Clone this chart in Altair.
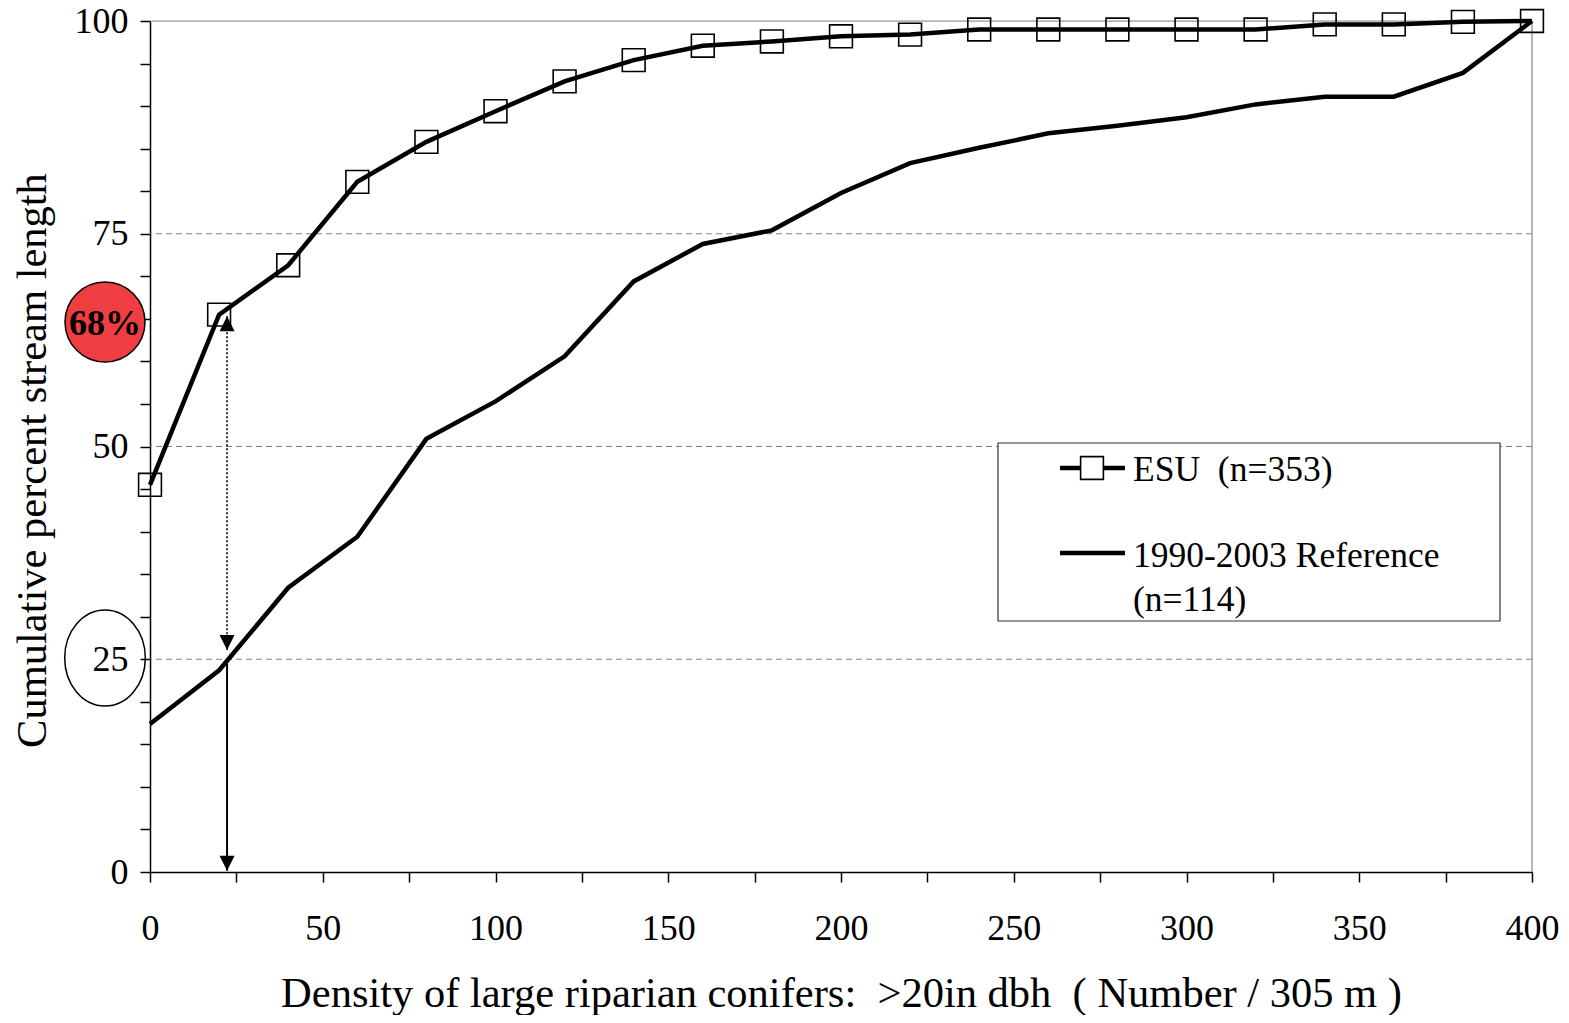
import altair as alt
import pandas as pd

# ---------------- data ----------------
density = [0, 20, 40, 60, 80, 100, 120, 140, 160, 180, 200,
           220, 240, 260, 280, 300, 320, 340, 360, 380, 400]
esu_pct = [45.5, 65.5, 71.3, 81.1, 85.8, 89.4, 92.9, 95.4, 97.1, 97.6, 98.2,
           98.4, 99.0, 99.0, 99.0, 99.0, 99.0, 99.6, 99.6, 99.9, 100.0]
ref_pct = [17.4, 23.7, 33.4, 39.4, 50.9, 55.3, 60.6, 69.4, 73.8, 75.4, 79.8,
           83.3, 85.1, 86.8, 87.7, 88.7, 90.2, 91.1, 91.1, 93.9, 100.0]

series_names = ["ESU\u00a0\u00a0(n=353)", "1990-2003 Reference", "(n=114)"]
grid_levels = [25, 50, 75]
frame_top = [100]
frame_right = [400]
x_ticks = list(range(0, 401, 25))
y_ticks = list(range(0, 101, 5))

# annotation: reading at 25% of reference curve
arrow_x = [22.3]
dotted_from = [65.3]   # tip of upward arrow (ESU value)
dotted_to = [26.1]     # tip of downward dotted arrow
solid_from = [25.0]
solid_to = [0.15]
circle_label = ["68%"]

FONT = "Liberation Serif"
W, H = 1382, 851

esu_df = pd.DataFrame({"x": density, "y": esu_pct})
ref_df = pd.DataFrame({"x": density, "y": ref_pct})
grid_df = pd.DataFrame({"y": grid_levels})
top_df = pd.DataFrame({"y": frame_top})
right_df = pd.DataFrame({"x": frame_right})
one = pd.DataFrame({"a": [0]})
arrow_df = pd.DataFrame({"x": arrow_x, "y1": dotted_from, "y2": dotted_to,
                         "s1": solid_from, "s2": solid_to})

xs = alt.Scale(domain=[0, 400], nice=False, zero=False)
ys = alt.Scale(domain=[0, 100], nice=False, zero=False)

axis_common = dict(
    domainColor="black", domainWidth=1.5, tickColor="black", tickWidth=1.5,
    tickSize=10, labelFont=FONT, labelFontSize=36, labelColor="black",
    labelFlush=False, labelOverlap=False,
    titleFont=FONT, titleFontSize=42.5, titleColor="black", titleFontWeight="normal",
    grid=False,
)

x_axis = alt.Axis(
    values=x_ticks,
    labelExpr="datum.value % 50 === 0 ? datum.label : ''",
    labelPadding=29, title="Density of large riparian conifers:\u00a0 >20in dbh\u00a0 ( Number / 305 m )",
    titleX=W / 2, titleY=134, titleAlign="center", titleBaseline="alphabetic",
    **axis_common,
)
y_axis = alt.Axis(
    values=y_ticks,
    labelExpr="datum.value % 25 === 0 ? datum.label : ''",
    labelPadding=12, title="Cumulative percent stream length",
    titleX=-118, titleY=439, titleAngle=270, titleAlign="center", titleBaseline="middle",
    **axis_common,
)


def X(f):
    return alt.X(f, type="quantitative", scale=xs, axis=x_axis)


def Y(f):
    return alt.Y(f, type="quantitative", scale=ys, axis=y_axis)


# gridlines and frame
grid = alt.Chart(grid_df).mark_rule(color="#808080", strokeWidth=1, strokeDash=[6, 4]).encode(
    y=Y("y")
)
top_rule = alt.Chart(top_df).mark_rule(color="#909090", strokeWidth=1.2).encode(y=Y("y"))
right_rule = alt.Chart(right_df).mark_rule(color="#909090", strokeWidth=1.2).encode(x=X("x"))

ref_line = alt.Chart(ref_df).mark_line(color="black", strokeWidth=4.5).encode(x=X("x"), y=Y("y"))
esu_line = alt.Chart(esu_df).mark_line(color="black", strokeWidth=4.5).encode(x=X("x"), y=Y("y"))
esu_pts = alt.Chart(esu_df).mark_point(
    shape="square", size=520, filled=False, color="black", strokeWidth=1.6, opacity=1
).encode(x=X("x"), y=Y("y"))

# arrows
dotted = alt.Chart(arrow_df).mark_rule(color="black", strokeWidth=1.6, strokeDash=[2, 2]).encode(
    x=X("x"), y=Y("y1"), y2="y2:Q"
)
solid = alt.Chart(arrow_df).mark_rule(color="black", strokeWidth=2).encode(
    x=X("x"), y=Y("s1"), y2="s2:Q"
)
UP = "M0,-1L1,1L-1,1Z"
DOWN = "M0,1L1,-1L-1,-1Z"
tri_up = alt.Chart(arrow_df).mark_point(shape=UP, size=225, filled=True, color="black", opacity=1, yOffset=7.5).encode(
    x=X("x"), y=Y("y1")
)
tri_down1 = alt.Chart(arrow_df).mark_point(shape=DOWN, size=225, filled=True, color="black", opacity=1, yOffset=-7.5).encode(
    x=X("x"), y=Y("y2")
)
tri_down2 = alt.Chart(arrow_df).mark_point(shape=DOWN, size=225, filled=True, color="black", opacity=1, yOffset=-7.5).encode(
    x=X("x"), y=Y("s2")
)

# annotations on the y axis
ELLIPSE = "M-0.84,0A0.84,1 0 1,0 0.84,0A0.84,1 0 1,0 -0.84,0Z"
ellipse25 = alt.Chart(one).mark_point(shape=ELLIPSE, size=96 * 96, filled=False, color="black",
                                      strokeWidth=1.5, opacity=1).encode(
    x=alt.value(-45), y=alt.value(637)
)
red_circle = alt.Chart(one).mark_point(shape="circle", size=80 * 80, filled=True, fill="#ef3e42",
                                       stroke="black", strokeWidth=1.5, opacity=1).encode(
    x=alt.value(-45), y=alt.value(301)
)
red_text = alt.Chart(one).mark_text(
    font=FONT, fontSize=36, fontWeight="bold", color="black", align="center", baseline="middle"
).encode(x=alt.value(-45), y=alt.value(303), text=alt.value(circle_label[0]))

# legend
leg_box = alt.Chart(one).mark_rect(fill="white", stroke="#333333", strokeWidth=1.2).encode(
    x=alt.value(848), x2=alt.value(1350), y=alt.value(422), y2=alt.value(600)
)
leg_line1 = alt.Chart(one).mark_rule(color="black", strokeWidth=4.5).encode(
    x=alt.value(910), x2=alt.value(975), y=alt.value(447)
)
leg_sq = alt.Chart(one).mark_point(shape="square", size=520, filled=True, fill="white", stroke="black",
                                   strokeWidth=1.6, opacity=1).encode(
    x=alt.value(942), y=alt.value(447)
)
leg_line2 = alt.Chart(one).mark_rule(color="black", strokeWidth=4.5).encode(
    x=alt.value(910), x2=alt.value(975), y=alt.value(532)
)


def leg_label(txt, py):
    return alt.Chart(one).mark_text(
        font=FONT, fontSize=35.5, color="black", align="left", baseline="middle"
    ).encode(x=alt.value(983), y=alt.value(py), text=alt.value(txt))


leg_t1 = leg_label(series_names[0], 449)
leg_t2 = leg_label(series_names[1], 535)
leg_t3 = leg_label(series_names[2], 579)

chart = alt.layer(
    grid, top_rule, right_rule, ref_line, esu_line, esu_pts,
    dotted, solid, tri_up, tri_down1, tri_down2,
    ellipse25, red_circle, red_text,
    leg_box, leg_line1, leg_sq, leg_line2, leg_t1, leg_t2, leg_t3,
).properties(
    width=W, height=H,
    padding={"left": 142, "top": 13, "right": 28, "bottom": 143},
    autosize=alt.AutoSizeParams(type="none"),
).configure_view(stroke=None).configure(background="white")

chart.save("out.html", embed_options={"renderer": "svg", "actions": False})
